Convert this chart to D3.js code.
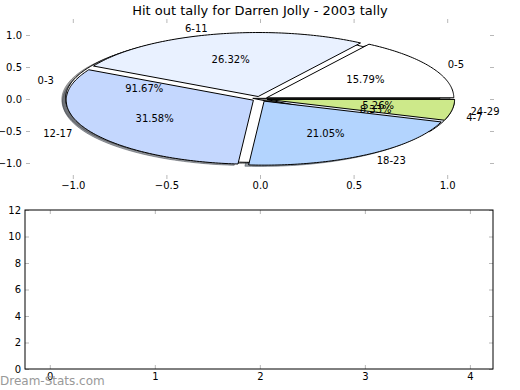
<!DOCTYPE html>
<html><head><meta charset="utf-8">
<script src="https://cdn.jsdelivr.net/npm/d3@7"></script>
<style>
body{margin:0;background:#fff}
svg{display:block}
text{font-family:"DejaVu Sans",sans-serif}
</style>
</head><body>
<svg id="c" width="520" height="390"></svg>
<script>
// ---- data ----
const categoriesA = ["0-5", "6-11", "12-17", "18-23", "24-29"];
const valuesA = [3, 5, 6, 4, 1];
const categoriesB = ["0-3", "4-7"];
const valuesB = [11, 1];
const pieTicks = [-1.0, -0.5, 0.0, 0.5, 1.0];
const barXTicks = [0, 1, 2, 3, 4];
const barYTicks = [0, 2, 4, 6, 8, 10, 12];
const titleText = "Hit out tally for Darren Jolly - 2003 tally";

// ---- styles ----
const palette = ["#ffffff", "#e9f1ff", "#c4d7fe", "#b3d4fe", "#cde98a"];
const EXPLODE = 0.04, SHADOW = 0.02;
const tickColor = "#b8b8b8";

const svg = d3.select("#c");
svg.append("rect").attr("width", 520).attr("height", 390).attr("fill", "#fff");

// ---- top (pie) axes ----
const T = {l: 26, r: 494, t: 19, b: 179};
const x1 = d3.scaleLinear().domain([-1.25, 1.25]).range([T.l, T.r]);
const y1 = d3.scaleLinear().domain([-1.25, 1.25]).range([T.b, T.t]);

function buildPie(cats, vals, explode) {
  const total = d3.sum(vals);
  const cum = d3.cumsum(vals);
  return vals.map((v, i) => {
    const t0 = (cum[i] - v) / total * 360, t1 = cum[i] / total * 360;
    const tm = (t0 + t1) / 2 * Math.PI / 180;
    return {cat: cats[i], v, pct: v / total * 100, t0, t1, tm,
            cx: explode * Math.cos(tm), cy: explode * Math.sin(tm),
            color: palette[i % palette.length]};
  });
}
const pieA = buildPie(categoriesA, valuesA, EXPLODE);
const pieB = buildPie(categoriesB, valuesB, EXPLODE);
const allW = pieB.concat(pieA);

const line = d3.line().x(d => x1(d[0])).y(d => y1(d[1]));
function wedgePath(cx, cy, t0, t1) {
  const pts = [[cx, cy]];
  const n = Math.max(6, Math.ceil(t1 - t0));
  for (let i = 0; i <= n; i++) {
    const t = (t0 + (t1 - t0) * i / n) * Math.PI / 180;
    pts.push([cx + Math.cos(t), cy + Math.sin(t)]);
  }
  return line(pts) + "Z";
}

const gPie = svg.append("g");
// shadows (behind everything)
allW.forEach(w => {
  const c = d3.rgb(w.color);
  const sc = d3.rgb(c.r * 0.3, c.g * 0.3, c.b * 0.3);
  gPie.append("path").attr("d", wedgePath(w.cx - SHADOW, w.cy - SHADOW, w.t0, w.t1))
    .attr("fill", sc).attr("fill-opacity", 0.5)
    .attr("stroke", sc).attr("stroke-opacity", 0.5).attr("stroke-width", 1);
});
// wedges
allW.forEach(w => {
  gPie.append("path").attr("d", wedgePath(w.cx, w.cy, w.t0, w.t1))
    .attr("fill", w.color).attr("stroke", "#000").attr("stroke-width", 1)
    .attr("stroke-linejoin", "round");
});
// texts
allW.forEach(w => {
  const lx = w.cx + 1.1 * Math.cos(w.tm), ly = w.cy + 1.1 * Math.sin(w.tm);
  gPie.append("text").attr("x", x1(lx)).attr("y", y1(ly))
    .attr("text-anchor", lx > 0 ? "start" : "end").attr("dominant-baseline", "central")
    .attr("font-size", 10).attr("fill", "#000").text(w.cat);
  const px = w.cx + 0.6 * Math.cos(w.tm), py = w.cy + 0.6 * Math.sin(w.tm);
  gPie.append("text").attr("x", x1(px)).attr("y", y1(py))
    .attr("text-anchor", "middle").attr("dominant-baseline", "central")
    .attr("font-size", 10).attr("fill", "#000").text(w.pct.toFixed(2) + "%");
});

function styleAxis(g, showDomain) {
  if (!showDomain) g.select(".domain").remove();
  g.selectAll(".tick line").attr("stroke", tickColor).attr("stroke-width", 1);
  g.selectAll("text").attr("font-size", 10).attr("fill", "#000")
    .attr("font-family", '"DejaVu Sans",sans-serif');
}
const f1 = d3.format(".1f");
svg.append("g").attr("transform", `translate(0,${T.b})`)
  .call(d3.axisBottom(x1).tickValues(pieTicks).tickFormat(f1).tickSize(-4).tickPadding(3))
  .call(g => styleAxis(g, false));
svg.append("g").attr("transform", `translate(0,${T.t})`)
  .call(d3.axisTop(x1).tickValues(pieTicks).tickFormat("").tickSize(-4))
  .call(g => styleAxis(g, false));
svg.append("g").attr("transform", `translate(${T.l},0)`)
  .call(d3.axisLeft(y1).tickValues(pieTicks).tickFormat(f1).tickSize(-4).tickPadding(4))
  .call(g => styleAxis(g, false));
svg.append("g").attr("transform", `translate(${T.r},0)`)
  .call(d3.axisRight(y1).tickValues(pieTicks).tickFormat("").tickSize(-4))
  .call(g => styleAxis(g, false));

svg.append("text").attr("x", 260).attr("y", 14.5).attr("text-anchor", "middle")
  .attr("font-size", 13).attr("fill", "#000").text(titleText);

// ---- bottom (empty bar) axes ----
const B = {l: 25, r: 493, t: 210, b: 369};
const x2 = d3.scaleLinear().domain([-0.236, 4.22]).range([B.l, B.r]);
const y2 = d3.scaleLinear().domain([0, 12]).range([B.b, B.t]);
svg.append("g").attr("transform", `translate(0,${B.b})`)
  .call(d3.axisBottom(x2).tickValues(barXTicks).tickFormat(d3.format("d")).tickSize(-4).tickPadding(4))
  .call(g => styleAxis(g, false));
svg.append("g").attr("transform", `translate(0,${B.t})`)
  .call(d3.axisTop(x2).tickValues(barXTicks).tickFormat("").tickSize(-4))
  .call(g => styleAxis(g, false));
svg.append("g").attr("transform", `translate(${B.l},0)`)
  .call(d3.axisLeft(y2).tickValues(barYTicks).tickFormat(d3.format("d")).tickSize(-4).tickPadding(4))
  .call(g => styleAxis(g, false));
svg.append("g").attr("transform", `translate(${B.r},0)`)
  .call(d3.axisRight(y2).tickValues(barYTicks).tickFormat("").tickSize(-4))
  .call(g => styleAxis(g, false));
svg.append("rect").attr("x", B.l).attr("y", B.t).attr("width", B.r - B.l).attr("height", B.b - B.t)
  .attr("fill", "none").attr("stroke", "#000").attr("stroke-width", 1);

// watermark
svg.append("text").attr("x", 0).attr("y", 384.5).attr("font-size", 12)
  .attr("fill", "#999").text("Dream-Stats.com");
</script>
</body></html>
